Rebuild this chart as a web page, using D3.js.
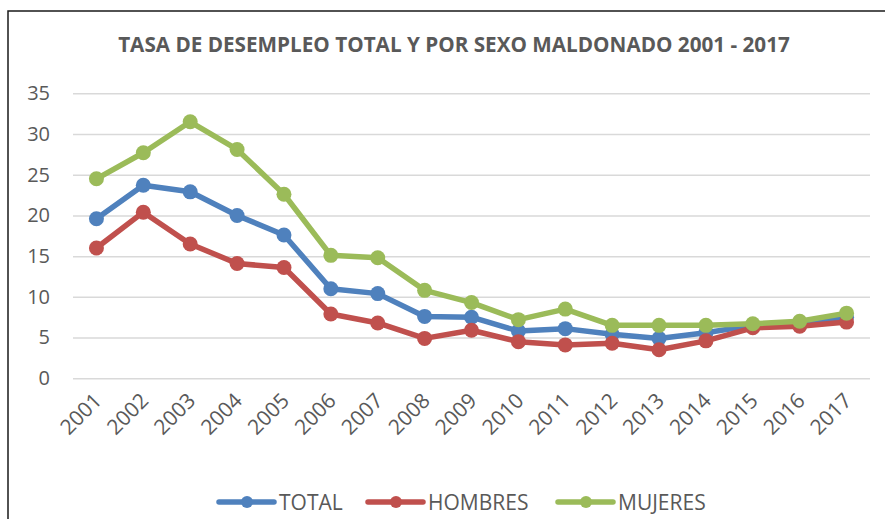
<!DOCTYPE html>
<html>
<head>
<meta charset="utf-8">
<script src="https://cdn.jsdelivr.net/npm/d3@7"></script>
<style>
  body { margin: 0; background: #fff; }
  svg { display: block; }
</style>
</head>
<body>
<svg id="chart" width="885" height="519"></svg>
<script>
var years = ['2001','2002','2003','2004','2005','2006','2007','2008','2009','2010','2011','2012','2013','2014','2015','2016','2017'];
var total   = [19.6, 23.7, 22.9, 20.0, 17.6, 11.0, 10.4, 7.6, 7.5, 5.8, 6.1, 5.4, 4.9, 5.6, 6.5, 6.8, 7.5];
var hombres = [16.0, 20.4, 16.5, 14.1, 13.6, 7.9, 6.8, 4.9, 5.9, 4.5, 4.1, 4.3, 3.5, 4.6, 6.2, 6.4, 6.9];
var mujeres = [24.5, 27.7, 31.5, 28.1, 22.6, 15.1, 14.8, 10.8, 9.3, 7.2, 8.5, 6.5, 6.5, 6.5, 6.7, 7.0, 8.0];
var yTicks = [0, 5, 10, 15, 20, 25, 30, 35];
var seriesNames = ['TOTAL', 'HOMBRES', 'MUJERES'];
var seriesColors = ['#4F81BD', '#C0504D', '#9BBB59'];

var series = [total, hombres, mujeres].map(function(vals, i) {
  return { name: seriesNames[i], color: seriesColors[i], values: vals };
});

var svg = d3.select('#chart');
var textColor = '#595959';
var font = '"Open Sans", sans-serif';

/* outer frame of the chart (runs off right and bottom) */
svg.append('rect')
  .attr('x', 8).attr('y', 11)
  .attr('width', 1000).attr('height', 1000)
  .attr('fill', 'none')
  .attr('stroke', '#1a1a1a')
  .attr('stroke-width', 1.5);

var x = d3.scalePoint().domain(years).range([73, 870]).padding(0.5);
var y = d3.scaleLinear().domain([0, 35]).range([378.3, 93.3]);

// title
svg.append('text')
  .attr('x', 454).attr('y', 52)
  .attr('text-anchor', 'middle')
  .attr('font-family', font)
  .attr('font-weight', 'bold')
  .attr('font-size', 20.7)
  .attr('fill', textColor)
  .text('TASA DE DESEMPLEO TOTAL Y POR SEXO MALDONADO 2001 - 2017');

// gridlines + y labels
var yAxis = svg.append('g')
  .attr('transform', 'translate(73,0)')
  .call(d3.axisLeft(y).tickValues(yTicks).tickSize(-797).tickPadding(23));
yAxis.select('.domain').remove();
yAxis.selectAll('.tick line').attr('stroke', '#D9D9D9').attr('stroke-width', 1.5);
yAxis.selectAll('.tick text')
  .attr('font-family', font).attr('font-size', 20).attr('fill', textColor);

// x labels, rotated
var xAxis = svg.append('g')
  .attr('transform', 'translate(0,378)')
  .call(d3.axisBottom(x).tickSize(0).tickPadding(0));
xAxis.select('.domain').remove();
xAxis.selectAll('.tick text')
  .attr('font-family', font).attr('font-size', 21).attr('fill', textColor)
  .attr('text-anchor', 'end')
  .attr('dy', 0)
  .attr('transform', 'translate(6,24) rotate(-45)');

// lines and markers
var line = d3.line()
  .x(function(d, i) { return x(years[i]); })
  .y(function(d) { return y(d); });

var g = svg.append('g');
series.forEach(function(s) {
  g.append('path')
    .datum(s.values)
    .attr('d', line)
    .attr('fill', 'none')
    .attr('stroke', s.color)
    .attr('stroke-width', 5.5)
    .attr('stroke-linejoin', 'round');
  g.selectAll(null)
    .data(s.values)
    .enter().append('circle')
    .attr('cx', function(d, i) { return x(years[i]); })
    .attr('cy', function(d) { return y(d); })
    .attr('r', 7.5)
    .attr('fill', s.color);
});

// legend
var legendX = [219, 368, 558];
var legend = svg.append('g');
series.forEach(function(s, i) {
  var lg = legend.append('g').attr('transform', 'translate(' + legendX[i] + ',502)');
  lg.append('line')
    .attr('x1', 0).attr('x2', 55)
    .attr('stroke', s.color).attr('stroke-width', 5.5)
    .attr('stroke-linecap', 'round');
  lg.append('circle').attr('cx', 28).attr('r', 6).attr('fill', s.color);
  lg.append('text')
    .attr('x', 60).attr('y', 8)
    .attr('font-family', font)
    .attr('font-size', 21)
    .attr('fill', textColor)
    .text(s.name);
});
</script>
</body>
</html>
